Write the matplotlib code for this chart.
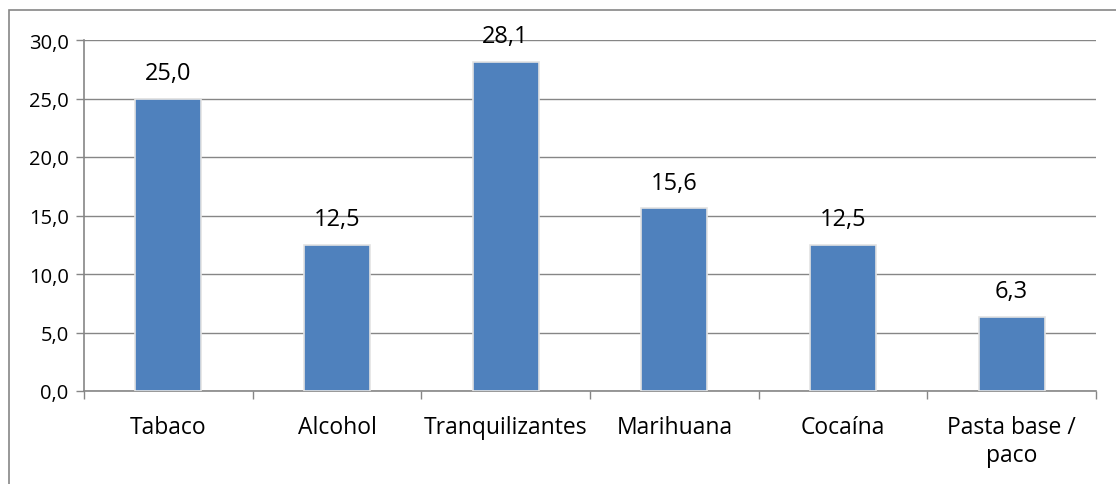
import matplotlib.pyplot as plt
from matplotlib.patches import Rectangle

categories = ['Tabaco', 'Alcohol', 'Tranquilizantes', 'Marihuana', 'Cocaína', 'Pasta base /\npaco']
values = [25.0, 12.5, 28.1, 15.6, 12.5, 6.3]
yticks = [0, 5, 10, 15, 20, 25, 30]

plt.rcParams['font.family'] = ['Open Sans', 'DejaVu Sans']

W, H = 1116, 485
fig = plt.figure(figsize=(W / 100, H / 100), dpi=100)
ax = fig.add_axes([84 / W, 1 - 392 / H, (1096 - 84) / W, (392 - 41) / H])

# outer chart border (right and bottom edges fall outside the picture)
fig.patches.append(Rectangle((9 / W, -0.05), 1.1, 1.05 - 11 / H,
                             transform=fig.transFigure, fill=False,
                             edgecolor='#868686', linewidth=1.2))

grid_c = '#868686'
x = range(len(categories))
bars = ax.bar(x, values, width=0.39, color='#4F81BD', edgecolor='#e3e3e3',
              linewidth=1.2, zorder=3)
for xi, v in zip(x, values):
    ax.text(xi, v + 1.7, f'{v:.1f}'.replace('.', ','), ha='center', va='baseline',
            fontsize=17, color='black')

ax.set_xlim(-0.5, len(categories) - 0.5)
ax.set_ylim(0, 30)
ax.set_yticks(yticks)
ax.set_yticklabels([f'{t:.1f}'.replace('.', ',') for t in yticks], fontsize=14.5)
ax.yaxis.grid(True, color=grid_c, linewidth=1, zorder=0)
ax.set_axisbelow(True)

ax.set_xticks([i - 0.5 for i in range(len(categories) + 1)])
ax.set_xticklabels([])
ax.set_xticks(list(x), minor=True)
ax.set_xticklabels(categories, minor=True, fontsize=16.5, linespacing=1.25)
ax.tick_params(axis='x', which='minor', length=0, pad=17)
ax.tick_params(axis='x', which='major', length=6, color=grid_c, width=1)
ax.tick_params(axis='y', length=6, color=grid_c, width=1, pad=5)

for s in ['top', 'right']:
    ax.spines[s].set_visible(False)
for s in ['left', 'bottom']:
    ax.spines[s].set_color(grid_c)
    ax.spines[s].set_linewidth(1.2)

fig.savefig('out.png', dpi=100)
